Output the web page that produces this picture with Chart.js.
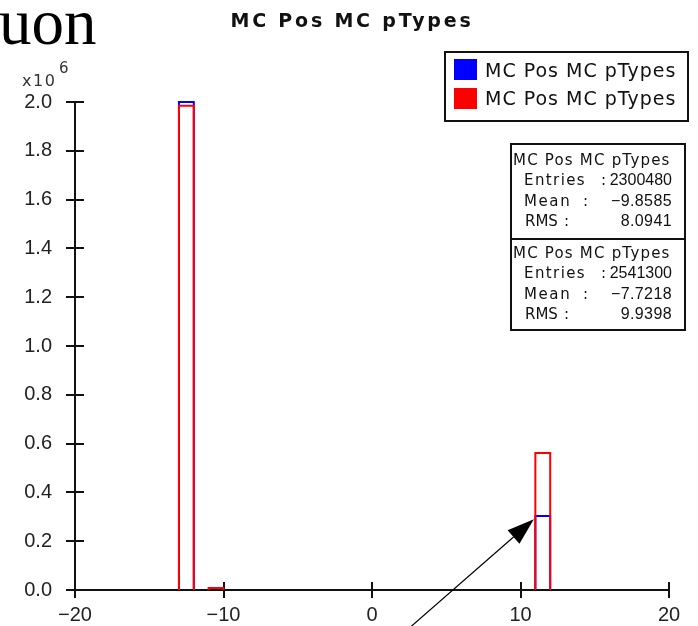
<!DOCTYPE html>
<html>
<head>
<meta charset="utf-8">
<script src="https://cdn.jsdelivr.net/npm/chart.js@4.4.1/dist/chart.umd.min.js"></script>
<style>
  html, body { margin: 0; padding: 0; background: #fff; }
  #wrap { width: 698px; height: 626px; position: relative; }
</style>
</head>
<body>
<div id="wrap"><canvas id="histo"></canvas></div>
<script>
// histogram bins (low edge, width 1) and contents
const binLow = [-13, -11, 11];
const binWidth = 1;
const redCounts = [1985000, 8000, 561000];
const blueCounts = [2000000, 0, 303000];

const seriesName = "MC Pos MC pTypes";
const xTicks = [-20, -10, 0, 10, 20];
const yTicks = [0, 200000, 400000, 600000, 800000, 1000000, 1200000, 1400000, 1600000, 1800000, 2000000];

// stats boxes: blue first, red second
const statEntries = ["2300480", "2541300"];
const statMean = ["\u22129.8585", "\u22127.7218"];
const statRms = ["8.0941", "9.9398"];

// arrow annotation (data coords)
const arrowTip = { x: 10.9, y: 290000 };
const arrowTail = { x: -0.2, y: -300000 };

function outline(counts) {
    const pts = [];
    counts.forEach((c, i) => {
        if (c <= 0) return;
        const lo = binLow[i], hi = lo + binWidth;
        pts.push({ x: lo, y: 0 }, { x: lo, y: c }, { x: hi, y: c }, { x: hi, y: 0 }, { x: hi, y: null });
    });
    return pts;
}

function spaced(ctx, txt, x, y, font, spacing, align, color) {
    ctx.save();
    ctx.font = font;
    ctx.letterSpacing = spacing;
    ctx.fillStyle = color || "#111";
    ctx.textBaseline = "alphabetic";
    ctx.textAlign = align || "left";
    ctx.fillText(txt, x, y);
    ctx.restore();
}

const decor = {
    id: "decor",
    beforeDatasetsDraw(chart) {
        const ctx = chart.ctx;
        const xs = chart.scales.x, ys = chart.scales.y;
        const a = chart.chartArea;
        ctx.save();
        ctx.strokeStyle = "#111";
        ctx.lineWidth = 2;
        ctx.beginPath();
        xTicks.forEach(v => {
            const px = Math.round(xs.getPixelForValue(v));
            ctx.moveTo(px, a.bottom - 8);
            ctx.lineTo(px, a.bottom + 8);
        });
        yTicks.forEach(v => {
            const py = Math.round(ys.getPixelForValue(v));
            ctx.moveTo(a.left - 9, py);
            ctx.lineTo(a.left + 9, py);
        });
        ctx.stroke();
        ctx.restore();
    },
    afterDraw(chart) {
        const ctx = chart.ctx;
        const xs = chart.scales.x, ys = chart.scales.y;

        // slide text fragment
        spaced(ctx, "uon", -1, 44, "65px 'Liberation Serif'", "0px", "left", "#000");

        // title
        spaced(ctx, seriesName, 352, 27, "bold 19px 'DejaVu Sans'", "2.8px", "center");

        // exponent
        spaced(ctx, "x10", 22, 86, "16px 'DejaVu Sans'", "1.5px", "left", "#333");
        spaced(ctx, "6", 59, 73, "15px 'DejaVu Sans'", "0px", "left", "#333");

        // legend
        ctx.save();
        ctx.fillStyle = "#fff";
        ctx.fillRect(445, 52, 243, 69);
        ctx.strokeStyle = "#111";
        ctx.lineWidth = 2;
        ctx.strokeRect(445, 52, 243, 69);
        ctx.fillStyle = "#0000ff";
        ctx.fillRect(454, 59, 23, 21);
        ctx.fillStyle = "#ff0000";
        ctx.fillRect(454, 88, 23, 21);
        ctx.restore();
        spaced(ctx, seriesName, 485, 77, "19px 'DejaVu Sans'", "1px");
        spaced(ctx, seriesName, 485, 105, "19px 'DejaVu Sans'", "1px");

        // stats boxes
        ctx.save();
        ctx.fillStyle = "#fff";
        ctx.fillRect(511, 144, 174, 186);
        ctx.strokeStyle = "#111";
        ctx.lineWidth = 2;
        ctx.strokeRect(511, 144, 174, 186);
        ctx.beginPath();
        ctx.moveTo(511, 239);
        ctx.lineTo(685, 239);
        ctx.stroke();
        ctx.restore();
        const f = "15px 'DejaVu Sans'";
        const fv = "16px 'Liberation Sans'";
        [0, 1].forEach(k => {
            const b = 165 + k * 93;
            spaced(ctx, seriesName, 513, b, f, "1.2px");
            spaced(ctx, "Entries", 524, b + 20, f, "1.4px");
            spaced(ctx, ":", 601, b + 20, f, "0px");
            spaced(ctx, statEntries[k], 672, b + 20, fv, "0px", "right");
            spaced(ctx, "Mean", 524, b + 41, f, "1.6px");
            spaced(ctx, ":", 583, b + 41, f, "0px");
            spaced(ctx, statMean[k], 672, b + 41, fv, "0.4px", "right");
            spaced(ctx, "RMS", 525, b + 61, f, "0px");
            spaced(ctx, ":", 564, b + 61, f, "0px");
            spaced(ctx, statRms[k], 672, b + 61, fv, "0.4px", "right");
        });

        // arrow
        const tx = xs.getPixelForValue(arrowTip.x), ty = ys.getPixelForValue(arrowTip.y);
        const sx = xs.getPixelForValue(arrowTail.x), sy = ys.getPixelForValue(arrowTail.y);
        const ang = Math.atan2(ty - sy, tx - sx);
        const len = 27, half = 9;
        const bx = tx - len * Math.cos(ang), by = ty - len * Math.sin(ang);
        ctx.save();
        ctx.strokeStyle = "#000";
        ctx.fillStyle = "#000";
        ctx.lineWidth = 1.2;
        ctx.beginPath();
        ctx.moveTo(sx, sy);
        ctx.lineTo(bx, by);
        ctx.stroke();
        ctx.beginPath();
        ctx.moveTo(tx, ty);
        ctx.lineTo(bx + half * Math.sin(ang), by - half * Math.cos(ang));
        ctx.lineTo(bx - half * Math.sin(ang), by + half * Math.cos(ang));
        ctx.closePath();
        ctx.fill();
        ctx.restore();
    }
};

new Chart(document.getElementById("histo"), {
    type: "line",
    data: {
        datasets: [
            {
                label: seriesName,
                data: outline(redCounts),
                borderColor: "#ff0000",
                borderWidth: 2,
                pointRadius: 0,
                fill: false,
                spanGaps: false,
                clip: false
            },
            {
                label: seriesName,
                data: outline(blueCounts),
                borderColor: "#0000ff",
                borderWidth: 2,
                pointRadius: 0,
                fill: false,
                spanGaps: false,
                clip: false
            }
        ]
    },
    options: {
        responsive: true,
        maintainAspectRatio: false,
        animation: false,
        layout: { padding: { top: 102, right: 29, left: 0, bottom: 0 } },
        plugins: {
            legend: { display: false },
            tooltip: { enabled: false }
        },
        scales: {
            x: {
                type: "linear",
                min: -20,
                max: 20,
                afterBuildTicks: s => { s.ticks = xTicks.map(v => ({ value: v })); },
                afterFit: s => { s.height = 36; },
                grid: { display: false },
                border: { display: true, color: "#111", width: 2 },
                ticks: {
                    padding: 5,
                    color: "#222",
                    font: { family: "'Liberation Sans'", size: 20 },
                    maxRotation: 0,
                    callback: v => (v < 0 ? "\u2212" + Math.abs(v) : String(v))
                }
            },
            y: {
                type: "linear",
                min: 0,
                max: 2000000,
                afterBuildTicks: s => { s.ticks = yTicks.map(v => ({ value: v })); },
                afterFit: s => { s.width = 75; },
                grid: { display: false },
                border: { display: true, color: "#111", width: 2 },
                ticks: {
                    padding: 15,
                    color: "#222",
                    font: { family: "'Liberation Sans'", size: 20 },
                    callback: v => (v / 1e6).toFixed(1)
                }
            }
        }
    },
    plugins: [decor]
});
</script>
</body>
</html>
